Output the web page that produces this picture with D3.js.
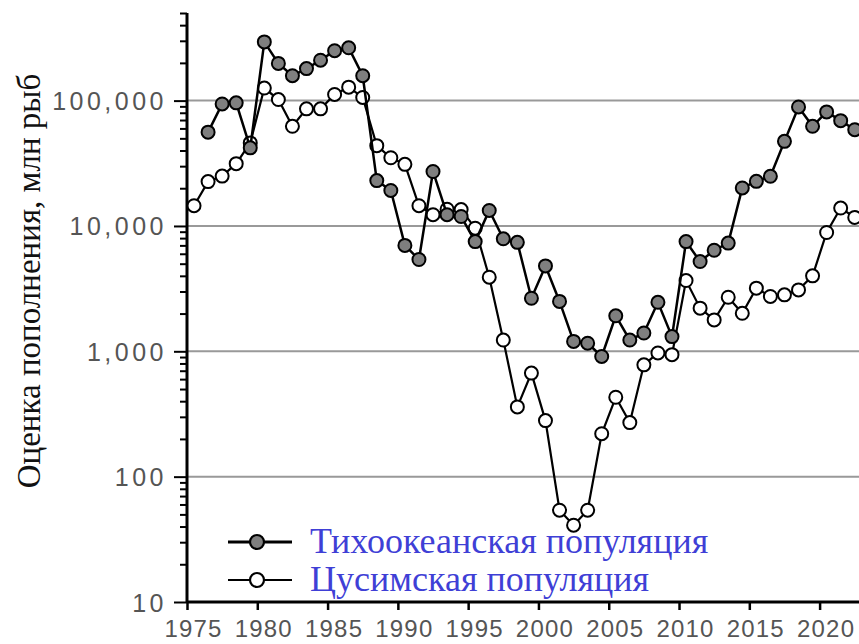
<!DOCTYPE html>
<html>
<head>
<meta charset="utf-8">
<script src="https://d3js.org/d3.v7.min.js"></script>
<style>
  body { margin: 0; background: #fff; }
  .tick text { font-family: "Liberation Sans", Arial, sans-serif; fill: #555; }
</style>
</head>
<body>

<div id="chart"></div>

<script>

// recruitment estimates, millions of fish
var pacificYears = d3.range(1976, 2023);
var pacific = [56000, 94000, 96000, 42000, 294000, 198000, 158000, 180000, 210000, 250000,
  264000, 158000, 23000, 19200, 7000, 5400, 27200, 12300, 11900, 7500,
  13300, 7900, 7400, 2650, 4800, 2500, 1200, 1160, 910, 1920,
  1230, 1400, 2460, 1310, 7500, 5200, 6400, 7300, 20100, 22700,
  24900, 47300, 89000, 62400, 81300, 69200, 58600];

var tsushimaYears = d3.range(1975, 2023);
var tsushima = [14500, 22600, 25000, 31400, 46000, 126000, 102000, 62400, 86000, 86000,
  112000, 128000, 106000, 43700, 35000, 31000, 14500, 12300, 13600, 13500,
  9600, 3900, 1230, 360, 670, 280, 54, 41, 54, 220,
  430, 270, 780, 970, 940, 3670, 2210, 1780, 2700, 2010,
  3190, 2740, 2820, 3090, 4000, 8870, 13900, 11700];

var seriesNames = ["Тихоокеанская популяция", "Цусимская популяция"];
var xTicks = [1975, 1980, 1985, 1990, 1995, 2000, 2005, 2010, 2015, 2020];
var yTicks = [10, 100, 1000, 10000, 100000];
var yTitle = "Оценка пополнения, млн рыб";

var margin = {top: 13, bottom: 42, left: 187, right: 0};
var width = 859 - margin.left - margin.right;
var height = 644 - margin.top - margin.bottom;

var x = d3.scaleLinear().domain([1975, 2020]).range([0, 632.6]);
var y = d3.scaleLog().domain([10, 500000]).range([height, 0]);

var svg = d3.select("#chart")
  .append("svg")
  .attr("width", 859)
  .attr("height", 644)
  .append("g")
  .attr("transform", "translate(" + margin.left + "," + margin.top + ")");

// grid lines
svg.selectAll(".grid")
  .data(yTicks.slice(1))
  .enter()
  .append("line")
  .attr("x1", 0).attr("x2", width)
  .attr("y1", function(d) { return y(d); })
  .attr("y2", function(d) { return y(d); })
  .attr("stroke", "#999")
  .attr("stroke-width", 2);

// minor ticks on the log axis
var minor = [];
[10, 100, 1000, 10000, 100000].forEach(function(p) {
  for (var k = 2; k <= 9; k++) if (p * k <= 500000) minor.push(p * k);
});

var yMinor = svg.append("g")
  .call(d3.axisLeft(y).tickValues(minor).tickSize(7).tickFormat(""));
yMinor.select(".domain").remove();
yMinor.selectAll("line").attr("stroke", "#000").attr("stroke-width", 2);

var yAxis = svg.append("g")
  .call(d3.axisLeft(y).tickValues(yTicks).tickSize(13).tickPadding(7).tickFormat(d3.format(",")));
yAxis.select(".domain").remove();
yAxis.selectAll("line").attr("stroke", "#000").attr("stroke-width", 2);
yAxis.selectAll("text")
  .attr("font-size", 25)
  .attr("letter-spacing", "3.5px")
  .attr("dy", "0.36em");

var xAxis = svg.append("g")
  .attr("transform", "translate(0," + height + ")")
  .call(d3.axisBottom(x).tickValues(xTicks).tickSize(8).tickPadding(10).tickFormat(d3.format("d")));
xAxis.select(".domain").remove();
xAxis.selectAll("line").attr("stroke", "#000").attr("stroke-width", 2.5);
xAxis.selectAll("text")
  .attr("font-size", 24)
  .attr("letter-spacing", "1.2px")
  .attr("dx", 6);

// axis lines
svg.append("line")
  .attr("x1", 0).attr("x2", 0)
  .attr("y1", 0).attr("y2", height)
  .attr("stroke", "#000").attr("stroke-width", 3);
svg.append("line")
  .attr("x1", 0).attr("x2", width)
  .attr("y1", height).attr("y2", height)
  .attr("stroke", "#000").attr("stroke-width", 3);

// y title
svg.append("text")
  .attr("transform", "translate(" + (-margin.left + 40) + "," + 268 + ") rotate(-90)")
  .attr("text-anchor", "middle")
  .attr("font-family", "Liberation Serif, Times New Roman, serif")
  .attr("font-size", 33)
  .attr("fill", "#111")
  .text(yTitle);

// series: tsushima underneath, pacific on top
var line = d3.line()
  .x(function(d) { return x(d.year + 0.5); })
  .y(function(d) { return y(d.value); });

function drawSeries(years, values, fill, lw) {
  var data = years.map(function(yr, i) { return {year: yr, value: values[i]}; });
  svg.append("path")
    .datum(data)
    .attr("d", line)
    .attr("fill", "none")
    .attr("stroke", "#000")
    .attr("stroke-width", lw);
  svg.append("g").selectAll("circle")
    .data(data)
    .enter()
    .append("circle")
    .attr("cx", function(d) { return x(d.year + 0.5); })
    .attr("cy", function(d) { return y(d.value); })
    .attr("r", 6.5)
    .attr("fill", fill)
    .attr("stroke", "#000")
    .attr("stroke-width", 2);
}

drawSeries(tsushimaYears, tsushima, "#fff", 2.2);
drawSeries(pacificYears, pacific, "#7f7f7f", 2.5);

// legend
var legend = [
  {name: seriesNames[0], fill: "#7f7f7f", lw: 3, y: 542},
  {name: seriesNames[1], fill: "#fff", lw: 2, y: 580}
];
var lg = svg.append("g").attr("transform", "translate(" + (-margin.left) + "," + (-margin.top) + ")");
legend.forEach(function(l) {
  lg.append("line")
    .attr("x1", 228).attr("x2", 292)
    .attr("y1", l.y).attr("y2", l.y)
    .attr("stroke", "#000").attr("stroke-width", l.lw);
  lg.append("circle")
    .attr("cx", 257).attr("cy", l.y)
    .attr("r", 7)
    .attr("fill", l.fill)
    .attr("stroke", "#000")
    .attr("stroke-width", 2.2);
  lg.append("text")
    .attr("x", 310).attr("y", l.y + 11)
    .attr("font-family", "Liberation Serif, Times New Roman, serif")
    .attr("font-size", 36)
    .attr("fill", "#3f3fd6")
    .text(l.name);
});

</script>
</body>
</html>
